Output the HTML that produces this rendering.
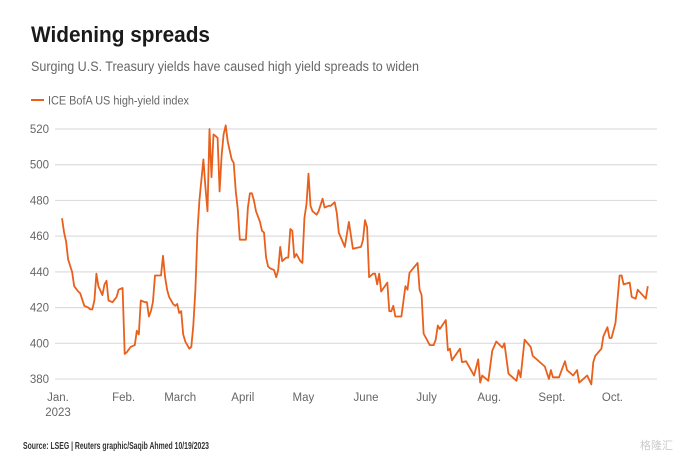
<!DOCTYPE html>
<html><head><meta charset="utf-8"><style>
body{margin:0;background:#fff;width:700px;height:455px;overflow:hidden;font-family:"Liberation Sans",sans-serif;}
svg{display:block}
</style></head><body>
<svg id="chart" width="700" height="455">
<text x="31" y="42" font-size="22" font-weight="bold" fill="#1a1a1a" textLength="179" lengthAdjust="spacingAndGlyphs">Widening spreads</text>
<text x="31" y="71" font-size="13.5" fill="#666" textLength="388" lengthAdjust="spacingAndGlyphs">Surging U.S. Treasury yields have caused high yield spreads to widen</text>
<g>
<line x1="31" y1="100" x2="44" y2="100" stroke="#e8601c" stroke-width="2"/>
<text x="48" y="104.5" font-size="11.5" fill="#666" textLength="141" lengthAdjust="spacingAndGlyphs">ICE BofA US high-yield index</text>
</g>
<g id="grid"></g>
<g id="yticks"></g>
<g id="xticks"></g>
<path id="line" fill="none" stroke="#e8601c" stroke-width="1.8" stroke-linejoin="round"/>
<text x="23" y="449" font-size="10" fill="#333" font-weight="bold" textLength="186" lengthAdjust="spacingAndGlyphs">Source: LSEG | Reuters graphic/Saqib Ahmed 10/19/2023</text>
<text x="640" y="449" font-size="11" fill="#ccc" font-family="'Liberation Sans','Noto Sans CJK SC',sans-serif">格隆汇</text>
</svg>
<script>
const days=[2,3,4,5,7,8,10,11,13,15,16,17,18,19,20,22,23,24,25,27,29,30,32,33,34,36,38,39,40,41,43,44,45,46,47,48,50,51,52,53,54,55,57,58,59,60,61,62,63,65,66,67,68,69,70,72,73,74,75,76,77,78,79,80,81,82,83,84,86,87,88,89,90,93,94,95,96,97,98,100,101,102,103,104,105,107,108,109,110,111,113,114,115,116,117,118,120,121,122,123,124,125,126,128,129,131,132,134,135,137,138,139,142,144,146,150,151,152,153,154,156,157,158,159,160,163,164,165,166,167,170,172,173,174,178,179,180,181,184,186,187,188,189,192,193,194,195,199,200,202,206,208,209,210,213,215,217,220,221,223,227,228,229,231,234,235,241,243,244,245,248,251,252,255,257,258,262,264,265,266,269,270,272,273,274,276,278,279,280,283,284,286,287,291,292];
const values=[470,462,457,447,440,432,429,428,421,420,419,419,424,439,432,427,433,435,424,423,426,430,431,394,395,398,399,407,405,424,423,423,415,418,423,438,438,438,449,437,430,426,422,421,422,417,418,405,401,397,398,410,430,462,480,503,487,474,520,493,517,516,515,485,505,517,522,513,503,501,485,475,458,458,476,484,484,480,474,468,463,462,448,443,442,441,437,441,454,446,448,448,464,463,448,450,446,445,470,478,495,477,474,472,474,481,476,477,477,479,473,462,454,468,453,454,458,469,465,437,439,439,433,439,429,434,418,418,421,415,415,432,430,439.5,445,430,427,405.5,399,399,402,410,408,413,396,397,390.5,397,389.5,390,382,391,378,382,379,396,401,397.6,400,383,379,385,381,402,398,393,387,380,385,381,381,390,385,382,385,378,382,377,389.5,393,397,404,409,403,403,411.5,438,438,433,434,426,425,430,425,432];
const yTicks=[380,400,420,440,460,480,500,520];
const monthLabels=["Jan.","Feb.","March","April","May","June","July","Aug.","Sept.","Oct."];
const monthDays=[0,31,59,90,120,151,181,212,243,273];
const NS="http://www.w3.org/2000/svg";
const xScale=d=>58+2.02*d;
const yScale=v=>129+(520-v)*1.786;
const grid=document.getElementById('grid'),yt=document.getElementById('yticks'),xt=document.getElementById('xticks');
yTicks.forEach(t=>{
 const l=document.createElementNS(NS,'line');
 l.setAttribute('x1',55);l.setAttribute('x2',657);l.setAttribute('y1',yScale(t));l.setAttribute('y2',yScale(t));
 l.setAttribute('stroke','#ddd');l.setAttribute('stroke-width','1.2');
 
 
 grid.appendChild(l);
 const tx=document.createElementNS(NS,'text');
 tx.setAttribute('x',49);tx.setAttribute('y',yScale(t)+4);tx.setAttribute('text-anchor','end');
 tx.setAttribute('font-size','11.5');tx.setAttribute('fill','#666');tx.textContent=t;
 
 
 yt.appendChild(tx);
});
monthLabels.forEach((m,i)=>{
 const tx=document.createElementNS(NS,'text');
 tx.setAttribute('x',xScale(monthDays[i])+(i==0?0:3));tx.setAttribute('y',401);tx.setAttribute('text-anchor','middle');
 tx.setAttribute('font-size','11.5');tx.setAttribute('fill','#666');tx.textContent=m;
 
 
 xt.appendChild(tx);
});
const yr=document.createElementNS(NS,'text');
yr.setAttribute('x',58);yr.setAttribute('y',416);yr.setAttribute('text-anchor','middle');
yr.setAttribute('font-size','11.5');yr.setAttribute('fill','#666');yr.textContent='2023';


xt.appendChild(yr);
document.getElementById('line').setAttribute('d',days.map((d,i)=>(i?'L':'M')+xScale(d).toFixed(1)+','+yScale(values[i]).toFixed(1)).join(''));
</script>
</body></html>
